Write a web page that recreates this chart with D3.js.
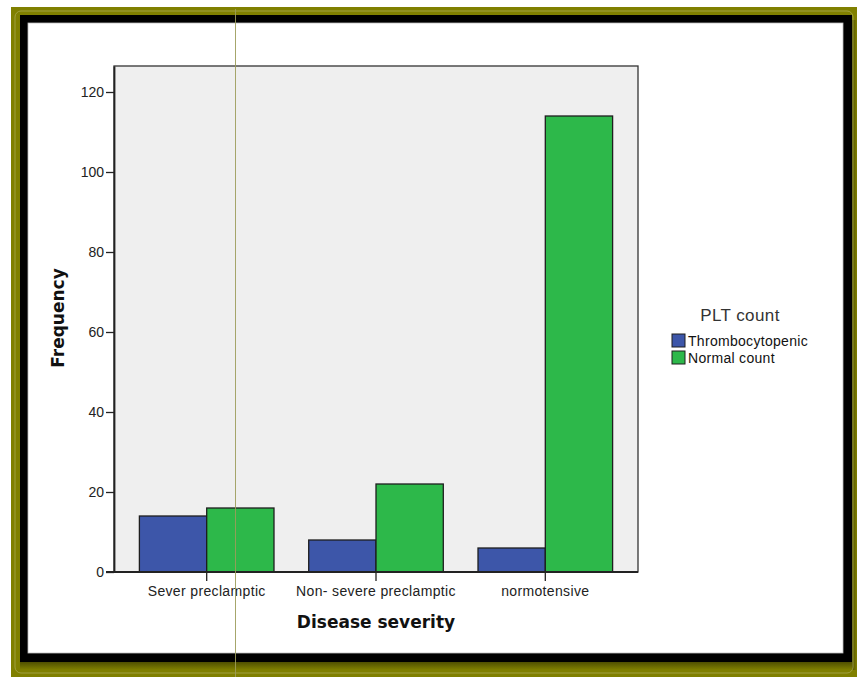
<!DOCTYPE html>
<html>
<head>
<meta charset="utf-8">
<script src="https://cdn.jsdelivr.net/npm/d3@7/dist/d3.min.js"></script>
<style>
  html, body { margin: 0; padding: 0; background: #ffffff; }
  svg { display: block; }
</style>
</head>
<body>
<svg id="chart" width="857" height="677"></svg>
<script>
// ---- data ----
const categories = ["Sever preclamptic", "Non- severe preclamptic", "normotensive"];
const seriesNames = ["Thrombocytopenic", "Normal count"];
const thrombocytopenic = [14, 8, 6];
const normalCount = [16, 22, 114];
const yTicks = [0, 20, 40, 60, 80, 100, 120];
const seriesColors = ["#3d56a9", "#2db84a"];

const svg = d3.select("#chart");

// ---- frame ----
const defs = svg.append("defs");
const gB = defs.append("linearGradient").attr("id", "shB").attr("x1", 0).attr("y1", 0).attr("x2", 0).attr("y2", 1);
gB.append("stop").attr("offset", "0%").attr("stop-color", "#4f4f00");
gB.append("stop").attr("offset", "100%").attr("stop-color", "#808000");
const gR = defs.append("linearGradient").attr("id", "shR").attr("x1", 0).attr("y1", 0).attr("x2", 1).attr("y2", 0);
gR.append("stop").attr("offset", "0%").attr("stop-color", "#4f4f00");
gR.append("stop").attr("offset", "100%").attr("stop-color", "#808000");

svg.append("rect").attr("x", 11).attr("y", 7).attr("width", 846).attr("height", 670).attr("fill", "#808000");
svg.append("rect").attr("x", 20).attr("y", 662).attr("width", 837).attr("height", 8).attr("fill", "url(#shB)");
svg.append("rect").attr("x", 852).attr("y", 20).attr("width", 5).attr("height", 650).attr("fill", "url(#shR)");
svg.append("rect").attr("x", 15).attr("y", 11).attr("width", 838).attr("height", 662)
  .attr("fill", "none").attr("stroke", "#a8a850").attr("stroke-width", 0.8).attr("rx", 6);
svg.append("rect").attr("x", 20).attr("y", 15).attr("width", 832).attr("height", 647).attr("fill", "#000000");
svg.append("rect").attr("x", 28).attr("y", 23).attr("width", 815).attr("height", 630).attr("fill", "#ffffff")
  .attr("stroke", "#bdbdbd").attr("stroke-width", 0.8);

// ---- plot ----
const plot = { left: 114, top: 66, right: 638, bottom: 572 };

const x0 = d3.scaleBand().domain(categories).range([plot.left, plot.right])
  .paddingInner(0.205).paddingOuter(0.15);
const x1 = d3.scaleBand().domain(seriesNames).range([0, x0.bandwidth()]).padding(0);
const y = d3.scaleLinear().domain([0, 126.5]).range([plot.bottom, plot.top]);

svg.append("rect").attr("x", plot.left).attr("y", plot.top)
  .attr("width", plot.right - plot.left).attr("height", plot.bottom - plot.top)
  .attr("fill", "#efefef").attr("stroke", "#333333").attr("stroke-width", 1.3);

const rows = categories.map((c, i) => ({ cat: c, vals: [thrombocytopenic[i], normalCount[i]] }));

const groups = svg.append("g").selectAll("g").data(rows).join("g")
  .attr("transform", d => `translate(${x0(d.cat)},0)`);
groups.selectAll("rect").data(d => d.vals.map((v, j) => ({ name: seriesNames[j], v, j })))
  .join("rect")
  .attr("x", d => x1(d.name))
  .attr("y", d => y(d.v))
  .attr("width", x1.bandwidth())
  .attr("height", d => y(0) - y(d.v))
  .attr("fill", d => seriesColors[d.j])
  .attr("stroke", "#1e1e1e").attr("stroke-width", 1.3);

const labelFont = "Liberation Sans, Arial, sans-serif";

// y axis
const yAxis = d3.axisLeft(y).tickValues(yTicks).tickSize(8).tickPadding(2).tickSizeOuter(0);
const gy = svg.append("g").attr("transform", `translate(${plot.left},0)`).call(yAxis);
gy.select(".domain").attr("stroke", "#222").attr("stroke-width", 1.8);
gy.selectAll(".tick line").attr("stroke", "#222").attr("stroke-width", 1.3);
gy.selectAll(".tick text").attr("font-family", labelFont)
  .attr("font-size", 14).attr("fill", "#222");

// x axis
const xAxis = d3.axisBottom(x0).tickSize(9).tickPadding(5).tickSizeOuter(0);
const gx = svg.append("g").attr("transform", `translate(0,${plot.bottom})`).call(xAxis);
gx.select(".domain").attr("stroke", "#222").attr("stroke-width", 1.8)
  .attr("d", `M${plot.left - 8},0H${plot.right}`);
gx.selectAll(".tick line").attr("stroke", "#222").attr("stroke-width", 1.3);
gx.selectAll(".tick text").attr("font-family", labelFont)
  .attr("font-size", 14).attr("letter-spacing", 0.35).attr("fill", "#222");

// axis titles
svg.append("text").attr("x", 376).attr("y", 628).attr("text-anchor", "middle")
  .attr("font-family", "DejaVu Sans, Verdana, sans-serif").attr("font-weight", "bold")
  .attr("font-size", 17).attr("fill", "#111").text("Disease severity");
svg.append("text").attr("transform", "translate(64,318) rotate(-90)").attr("text-anchor", "middle")
  .attr("font-family", "DejaVu Sans, Verdana, sans-serif").attr("font-weight", "bold")
  .attr("font-size", 17).attr("fill", "#111").text("Frequency");

// legend
const lg = svg.append("g");
lg.append("text").attr("x", 740).attr("y", 321).attr("text-anchor", "middle")
  .attr("font-family", labelFont).attr("font-size", 17).attr("letter-spacing", 0.4)
  .attr("fill", "#333").text("PLT count");
const li = lg.selectAll("g.item").data(seriesNames).join("g").attr("class", "item")
  .attr("transform", (d, i) => `translate(672,${334 + i * 17})`);
li.append("rect").attr("width", 13).attr("height", 13)
  .attr("fill", (d, i) => seriesColors[i]).attr("stroke", "#1e1e1e").attr("stroke-width", 1);
li.append("text").attr("x", 16).attr("y", 11.5)
  .attr("font-family", labelFont).attr("font-size", 14).attr("letter-spacing", 0.3)
  .attr("fill", "#111").text(d => d);

// scan artifact line
svg.append("line").attr("x1", 235.5).attr("x2", 235.5).attr("y1", 9).attr("y2", 677)
  .attr("stroke", "#9c9c5a").attr("stroke-width", 0.9);
</script>
</body>
</html>
